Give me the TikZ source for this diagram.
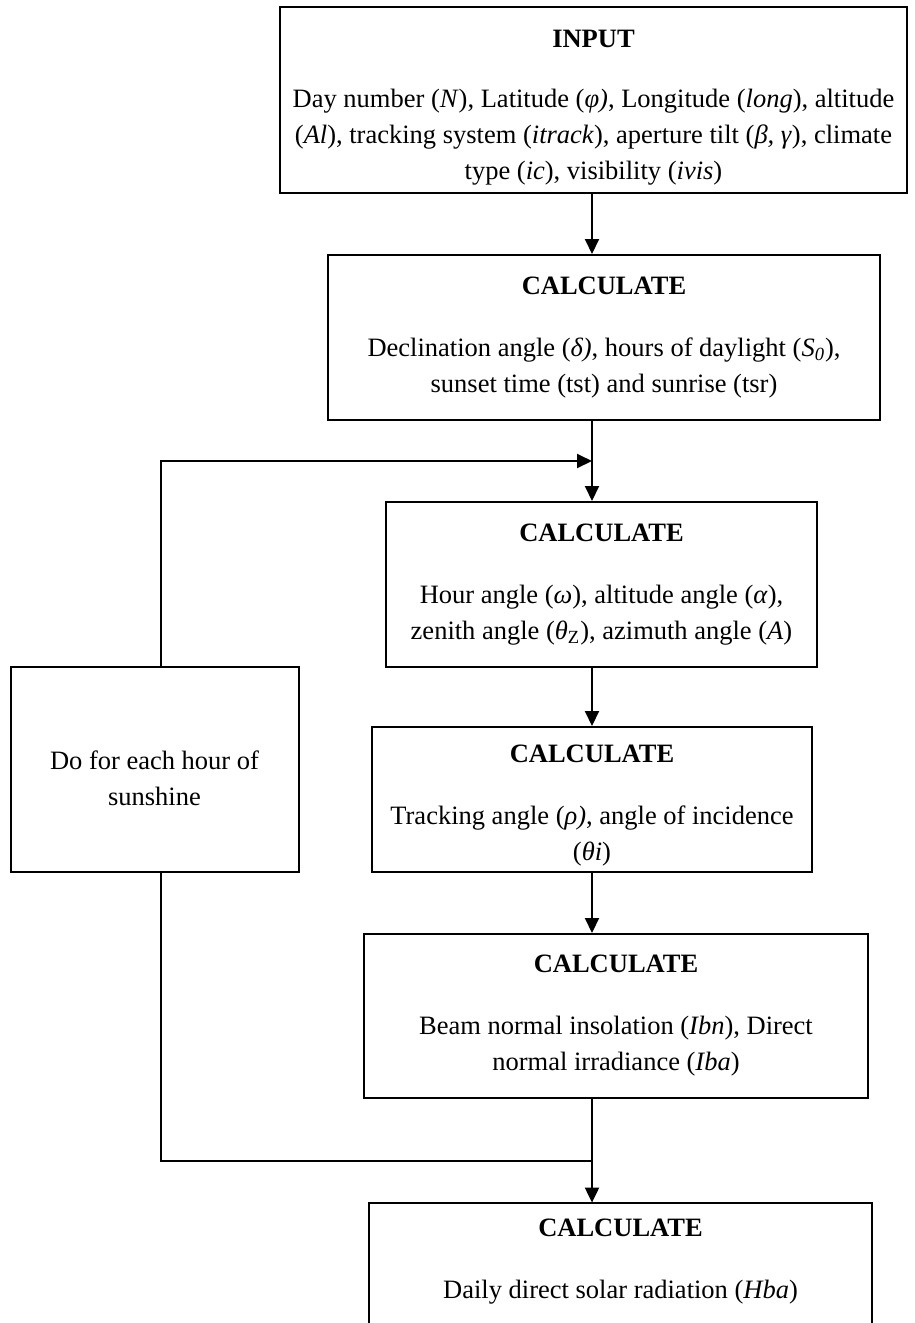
\documentclass[tikz,border=0pt]{standalone}
\usepackage{fontspec}
\setmainfont{Liberation Serif}
\usetikzlibrary{arrows.meta}
\begin{document}
\begin{tikzpicture}[x=0.5pt,y=-0.5pt,
  txt/.style={align=center, inner sep=0pt, font=\fontsize{13.25}{18}\selectfont},
  box/.style={txt, draw, line width=1pt},
  conn/.style={line width=1pt},
  arr/.style={conn, -{Triangle[length=7.5pt,width=7pt]}}]
\useasboundingbox (0,0) rectangle (915,1323);

\coordinate (sp) at (592,0);
\coordinate (fbx) at (160.5,0);
\coordinate (loopin) at (592,461);
\coordinate (loopout) at (592,1161);

\node[box, minimum width=313.5pt, minimum height=93pt] (input) at (593.5,100)
 {\rule{0pt}{16pt}\textbf{INPUT}\\[12pt]
  Day number (\textit{N}), Latitude (\textit{φ)}, Longitude (\textit{long}), altitude\\
  (\textit{Al}), tracking system (\textit{itrack}), aperture tilt (\textit{β, γ}), climate\\
  type (\textit{ic}), visibility (\textit{ivis})};

\node[box, minimum width=276pt, minimum height=82.5pt] (calc1) at (604,337.5)
 {\textbf{CALCULATE}\\[13pt]
  Declination angle (\textit{δ)}, hours of daylight (\textit{S\textsubscript{0}}),\\
  sunset time (tst) and sunrise (tsr)};

\node[box, minimum width=215.5pt, minimum height=82.5pt] (calc2) at (601.5,584.5)
 {\textbf{CALCULATE}\\[13pt]
  Hour angle (\textit{ω}), altitude angle (\textit{α}),\\
  zenith angle (\textit{θ}\textsubscript{Z}), azimuth angle (\textit{A})};

\node[box, minimum width=144pt, minimum height=102.5pt] (do) at (154.5,769.5)
 {\rule{0pt}{18pt}Do for each hour of\\sunshine};

\node[box, minimum width=220pt, minimum height=72.5pt] (calc3) at (592,799.5)
 {\rule{0pt}{15pt}\textbf{CALCULATE}\\[13pt]
  Tracking angle (\textit{ρ)}, angle of incidence\\
  (\textit{θi})};

\node[box, minimum width=252pt, minimum height=82pt] (calc4) at (616,1016)
 {\textbf{CALCULATE}\\[13pt]
  Beam normal insolation (\textit{Ibn}), Direct\\
  normal irradiance (\textit{Iba})};

\node[txt, minimum width=251.5pt, minimum height=59pt] (calc5) at (620.5,1262)
 {\textbf{CALCULATE}\\[13pt]
  Daily direct solar radiation (\textit{Hba})};
\draw[line width=1pt] ([yshift=-20pt]calc5.south west) -- (calc5.north west)
  -- (calc5.north east) -- ([yshift=-20pt]calc5.south east);

\draw[arr] (input.south -| sp) -- (calc1.north -| sp);
\draw[arr] (calc1.south -| sp) -- (calc2.north -| sp);
\draw[arr] (do.north -| fbx) |- (loopin);
\draw[arr] (calc2.south -| sp) -- (calc3.north -| sp);
\draw[arr] (calc3.south -| sp) -- (calc4.north -| sp);
\draw[conn] (do.south -| fbx) |- (loopout);
\draw[arr] (calc4.south -| sp) -- (calc5.north -| sp);
\end{tikzpicture}
\end{document}
